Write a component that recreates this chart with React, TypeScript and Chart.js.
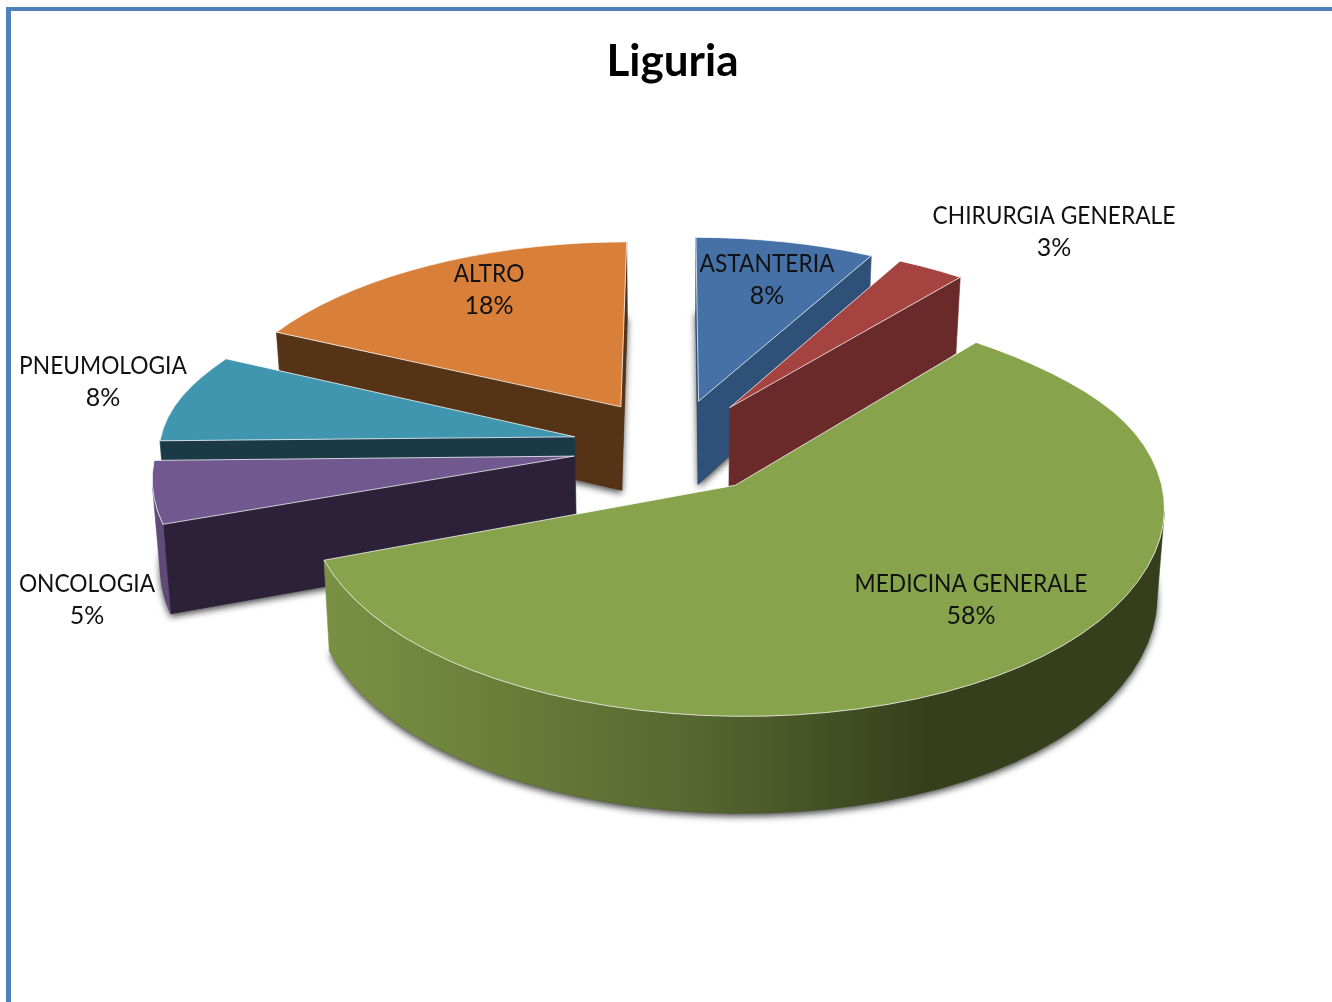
import React, { useEffect, useRef } from "react";
import { Chart, registerables } from "chart.js";

Chart.register(...registerables);

const categories = ["ASTANTERIA", "CHIRURGIA GENERALE", "MEDICINA GENERALE", "ONCOLOGIA", "PNEUMOLOGIA", "ALTRO"];
const shares = [8, 3, 58, 5, 8, 18];
const topColors = ["#4671A6", "#A54340", "#87A44D", "#71588F", "#3F96AE", "#D87F3A"];
const wallColors = ["#2F5078", "#6B2A2A", "#36401B", "#2C2138", "#193A46", "#553316"];
const rimColors = ["#2F5078", "#6B2A2A", "#36401B", "#5F4A78", "#2A6273", "#D87F3A"];
const labelCentres = [
  [767, 264],
  [1054, 216],
  [971, 584],
  [87, 584],
  [103, 366],
  [489, 274],
];

// Perspective view of the tilted pie plane
const CX = 674, CY = 446, RX = 414, RY = 193.4, PX = 0.125, PY = 0.119, EXPLODE = 0.2455, STEPS = 96;

const smooth = (v: number) => {
  const t = Math.max(0, Math.min(1, v));
  return t * t * (3 - 2 * t);
};
const project = (X: number, Y: number) => {
  const wy = 1 + PY * Y;
  // slight lens bow of the original rendering, strongest at the sides of the near half
  const bow = 5.5 * X * X * smooth((0.6 - Y) / 0.6) * smooth((Y + 1.3) / 0.8);
  return { x: CX + (RX * X) / (1 + PX * Y), y: CY - (RY * Y) / wy - bow, w: wy };
};
const lower = (p: { x: number; y: number; w: number }) => ({
  x: CX + (p.x - CX) * 0.985,
  y: p.y + 166.4 - 81 * p.w,
  w: p.w,
});

const pie3d = {
  id: "pie3d",
  beforeDatasetDraw(chart: any, args: any) {
    const ctx = chart.ctx;
    const meta = chart.getDatasetMeta(args.index);
    const slices = meta.data.map((arc: any, i: number) => {
      const s = arc.startAngle + Math.PI / 2;
      const e = arc.endAngle + Math.PI / 2;
      const m = (s + e) / 2;
      const ox = EXPLODE * Math.sin(m);
      const oy = EXPLODE * Math.cos(m);
      const apex = project(ox, oy);
      const n = Math.max(2, Math.ceil(((e - s) / (2 * Math.PI)) * STEPS));
      const rim = [];
      for (let k = 0; k <= n; k++) {
        const t = s + ((e - s) * k) / n;
        rim.push(project(ox + Math.sin(t), oy + Math.cos(t)));
      }
      return { i, apex, rim, top: arc.options.backgroundColor };
    });
    slices.sort((a: any, b: any) => a.apex.y - b.apex.y);

    const poly = (pts: any[]) => {
      ctx.beginPath();
      pts.forEach((p, k) => (k ? ctx.lineTo(p.x, p.y) : ctx.moveTo(p.x, p.y)));
      ctx.closePath();
    };
    const faces = (a: any, b: any) => {
      const q = [a, b, lower(b), lower(a)];
      let area = 0;
      q.forEach((p, j) => {
        const r = q[(j + 1) % 4];
        area += p.x * r.y - r.x * p.y;
      });
      return area < 0;
    };
    const greenWall = ctx.createLinearGradient(325, 0, 1160, 0);
    greenWall.addColorStop(0, "#7A9144");
    greenWall.addColorStop(0.21, "#6A7E3A");
    greenWall.addColorStop(0.45, "#55662F");
    greenWall.addColorStop(0.72, "#363F1B");
    greenWall.addColorStop(1, "#353F1C");

    for (const sl of slices) {
      const outline = [sl.apex, ...sl.rim];
      // soft drop shadow cast by the slice's base
      ctx.save();
      ctx.shadowColor = "rgba(0,0,0,0.75)";
      ctx.shadowBlur = 7;
      ctx.shadowOffsetY = 3;
      ctx.fillStyle = wallColors[sl.i];
      poly(outline.map(lower));
      ctx.fill();
      ctx.restore();

      const paintWall = (pts: any[], paint: any) => {
        ctx.fillStyle = paint;
        ctx.strokeStyle = paint;
        ctx.lineWidth = 0.6;
        poly([...pts, ...pts.slice().reverse().map(lower)]);
        ctx.fill();
        ctx.stroke();
      };

      // flat walls facing the viewer
      const first = sl.rim[0];
      const last = sl.rim[sl.rim.length - 1];
      if (faces(sl.apex, first)) paintWall([sl.apex, first], wallColors[sl.i]);
      if (faces(last, sl.apex)) paintWall([last, sl.apex], wallColors[sl.i]);

      // curved wall: continuous runs of the rim facing the viewer
      const rimPaint = sl.i === 2 ? greenWall : rimColors[sl.i];
      let run: any[] = [];
      for (let k = 0; k < sl.rim.length - 1; k++) {
        if (faces(sl.rim[k], sl.rim[k + 1])) {
          if (!run.length) run.push(sl.rim[k]);
          run.push(sl.rim[k + 1]);
        } else if (run.length) {
          paintWall(run, rimPaint);
          run = [];
        }
      }
      if (run.length) paintWall(run, rimPaint);

      // top face
      ctx.fillStyle = sl.top;
      poly(outline);
      ctx.fill();
      ctx.strokeStyle = "rgba(255,255,255,0.75)";
      ctx.lineWidth = 1;
      ctx.lineJoin = "round";
      ctx.stroke();
    }
    return false;
  },
  afterDatasetsDraw(chart: any) {
    const ctx = chart.ctx;
    ctx.save();
    ctx.font = "25px Lato";
    ctx.fillStyle = "#111111";
    ctx.textAlign = "center";
    ctx.textBaseline = "middle";
    categories.forEach((name, i) => {
      const [x, y] = labelCentres[i];
      ctx.fillText(name, x, y, ctx.measureText(name).width * 0.91);
      ctx.fillText(`${shares[i]}%`, x, y + 32);
    });
    ctx.restore();
  },
};

export default function App() {
  const ref = useRef<HTMLCanvasElement>(null);
  useEffect(() => {
    document.body.style.margin = "0";
    document.body.style.background = "#ffffff";
    const chart = new Chart(ref.current as HTMLCanvasElement, {
      type: "pie",
      data: {
        labels: categories,
        datasets: [{ data: shares, backgroundColor: topColors }],
      },
      options: {
        responsive: false,
        animation: false,
        layout: { padding: { left: 13 } },
        plugins: {
          legend: { display: false },
          tooltip: { enabled: false },
          title: {
            display: true,
            text: "Liguria",
            color: "#000000",
            font: { family: "Lato", size: 44, weight: "bold" },
            padding: { top: 35, bottom: 0 },
          },
        },
      },
      plugins: [pie3d],
    } as any);
    return () => chart.destroy();
  }, []);
  return (
    <div style={{ position: "relative", width: 1332, height: 1002, overflow: "hidden" }}>
      <canvas ref={ref} width={1332} height={1002} style={{ display: "block" }} />
      <div
        style={{
          position: "absolute",
          left: 6,
          top: 7,
          right: 0,
          bottom: 0,
          borderLeft: "5px solid #4F81BD",
          borderTop: "4px solid #4F81BD",
          pointerEvents: "none",
        }}
      />
    </div>
  );
}
